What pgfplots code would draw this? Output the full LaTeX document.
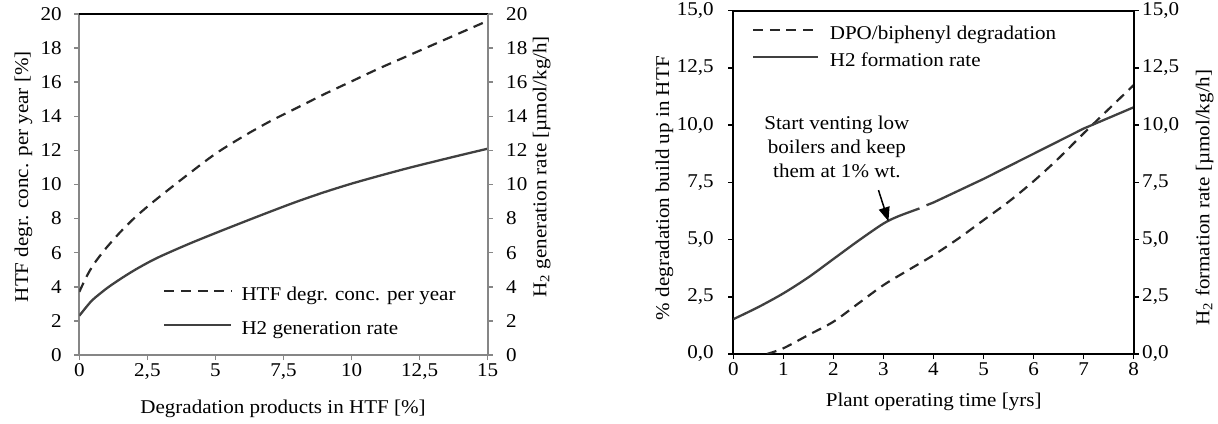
\documentclass[border=0pt]{standalone}
\usepackage{fontspec}
\setmainfont{Liberation Serif}[FakeStretch=1.08]
\usepackage{pgfplots}
\pgfplotsset{compat=1.18}
\usetikzlibrary{arrows.meta}
\definecolor{axgray}{RGB}{134,134,134}
\definecolor{dashc}{RGB}{40,40,40}
\definecolor{solc}{RGB}{64,64,64}
\newcommand\fs{\fontsize{19.5}{23}\selectfont}
\pgfplotsset{
  base/.style={
    scale only axis, anchor=south west,
    /pgf/number format/assume math mode=true,
    tick label style={font=\fs},
    label style={font=\fs},
    tick align=outside, major tick length=5pt,
    axis line style={-},
  },
}
\begin{document}
\begin{tikzpicture}
\useasboundingbox (0pt,0pt) rectangle (1218pt,423pt);
% ---------------- left chart ----------------
\begin{axis}[base,
  at={(79.3pt,68pt)}, width=408.4pt, height=341pt,
  xmin=0, xmax=15, ymin=0, ymax=20,
  axis x line*=bottom, axis y line*=left,
  axis line style={axgray, line width=1.8pt},
  tick style={axgray, line width=1.5pt},
  xtick={0,2.5,5,7.5,10,12.5,15},
  ytick={0,2,...,20},
  yticklabel style={xshift=-9pt},
  /pgf/number format/use comma,
  xlabel={Degradation products in HTF [\%]},
  xlabel style={at={(axis description cs:0.4988,-0.171)}, anchor=base},
  ylabel={HTF degr. conc. per year [\%]},
  ylabel style={at={(axis description cs:-0.1256,0.523)}, anchor=base},
  legend style={draw=none, fill=none, at={(axis description cs:0.205,0.2023)}, anchor=north west,
    inner sep=0pt, row sep=15.5pt, font=\fs,
    nodes={inner sep=0pt, text height=14pt, text depth=4.5pt},
    /tikz/every odd column/.append style={column sep=9pt}},
  legend image code/.code={\draw[#1] (0pt,4.5pt) -- (67pt,4.5pt);},
  legend cell align=left,
]
\addplot[dashc, line width=2.2pt, dash pattern=on 10pt off 6.7pt, smooth] coordinates {
 (0,3.7) (0.25,4.55) (0.5,5.25) (0.75,5.8) (1,6.3) (1.5,7.2) (2,8.0) (2.5,8.7) (3,9.35)
 (4,10.6) (5,11.8) (6,12.8) (7,13.7) (8,14.5) (9,15.3) (10,16.05)
 (11,16.8) (12,17.5) (13,18.2) (14,18.9) (15,19.6)};
\addlegendentry{HTF degr. conc. per year}
\addplot[solc, line width=2.3pt, smooth] coordinates {
 (0,2.3) (0.25,2.8) (0.5,3.25) (1,3.9) (1.5,4.45) (2,4.95) (2.5,5.4) (3,5.8)
 (4,6.5) (5,7.15) (6,7.78) (7,8.4) (8,9.0) (9,9.55) (10,10.05)
 (11,10.5) (12,10.93) (13,11.33) (14,11.72) (15,12.1)};
\addlegendentry{H2 generation rate}
\end{axis}
\begin{axis}[base,
  at={(79.3pt,68pt)}, width=408.4pt, height=341pt,
  xmin=0, xmax=15, ymin=0, ymax=20,
  axis x line*=top, axis y line*=right,
  x axis line style={black, line width=1.8pt},
  y axis line style={axgray, line width=1.8pt},
  tick style={axgray, line width=1.5pt},
  xtick=\empty,
  ytick={0,2,...,20},
  yticklabel style={xshift=10pt},
  ylabel={H\textsubscript{2} generation rate [µmol/kg/h]},
  ylabel style={at={(axis description cs:1.1435,0.552)}, anchor=base},
]
\end{axis}
% ---------------- right chart ----------------
\begin{axis}[base,
  at={(733.3pt,69pt)}, width=400.4pt, height=343.3pt,
  xmin=0, xmax=8, ymin=0, ymax=15,
  axis x line*=bottom, axis y line*=left,
  axis line style={black, line width=1.8pt},
  tick style={black, line width=1.5pt},
  xtick={0,1,...,8},
  ytick={0,2.5,...,15},
  yticklabel style={xshift=-11pt, /pgf/number format/.cd, fixed, fixed zerofill, precision=1, use comma},
  xlabel={Plant operating time [yrs]},
  xlabel style={at={(axis description cs:0.5005,-0.1515)}, anchor=base},
  ylabel={\% degradation build up in HTF},
  ylabel style={at={(axis description cs:-0.160,0.483)}, anchor=base},
  legend style={draw=none, fill=none, at={(axis description cs:0.046,0.9575)}, anchor=north west,
    inner sep=0pt, row sep=8.2pt, font=\fs,
    nodes={inner sep=0pt, text height=14pt, text depth=4.5pt},
    /tikz/every odd column/.append style={column sep=10.6pt}},
  legend image code/.code={\draw[#1] (0pt,4.5pt) -- (65pt,4.5pt);},
  legend cell align=left,
]
\addplot[dashc, line width=2.2pt, dash pattern=on 10pt off 6.7pt, smooth] coordinates {
 (0.67,0) (1,0.25) (1.5,0.83) (2,1.41) (2.5,2.21) (3,3.01) (3.5,3.67) (4,4.32)
 (4.5,5.05) (5,5.85) (5.5,6.65) (6,7.55) (6.5,8.55) (7,9.64) (7.5,10.7) (8,11.75)};
\addlegendentry{DPO/biphenyl degradation}
\addplot[solc, line width=2.3pt, smooth] coordinates {
 (0,1.52) (0.5,2.05) (1,2.65) (1.5,3.35) (2,4.15) (2.5,4.95) (3,5.7) (3.3,6.02) (3.72,6.36)};
\addlegendentry{H2 formation rate}
\addplot[solc, line width=2.3pt, forget plot] coordinates {
 (3.86,6.5) (4,6.62) (5,7.65) (6,8.75) (7,9.85) (8,10.78)};
\node[font=\fontsize{19.5}{24}\selectfont, align=center] at (axis cs:2.07,9.04)
  {Start venting low\\boilers and keep\\them at 1\% wt.};
\draw[-{Triangle[length=14pt,width=11pt]}, line width=1.5pt] (axis cs:2.9,7.16) -- (axis cs:3.10,5.8);
\end{axis}
\begin{axis}[base,
  at={(733.3pt,69pt)}, width=400.4pt, height=343.3pt,
  xmin=0, xmax=8, ymin=0, ymax=15,
  axis x line*=top, axis y line*=right,
  axis line style={black, line width=1.8pt},
  tick style={black, line width=1.5pt},
  xtick=\empty,
  ytick={0,2.5,...,15},
  yticklabel style={/pgf/number format/.cd, fixed, fixed zerofill, precision=1, use comma},
  ylabel={H\textsubscript{2} formation rate [µmol/kg/h]},
  ylabel style={at={(axis description cs:1.189,0.456)}, anchor=base},
]
\end{axis}
\end{tikzpicture}
\end{document}
